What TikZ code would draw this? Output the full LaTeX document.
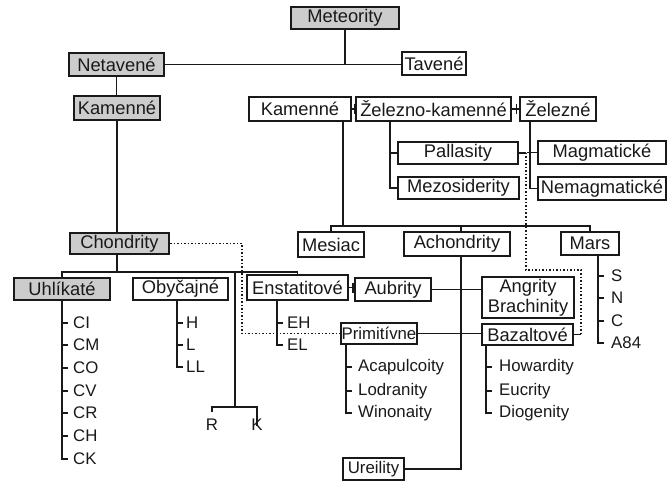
\documentclass[tikz,border=0pt]{standalone}
\usepackage{fontspec}
\setmainfont{Liberation Sans}
\definecolor{boxgray}{RGB}{204,204,204}
\definecolor{ink}{RGB}{25,25,25}
\newcommand\bigf{\fontsize{18.3}{20}\selectfont}
\newcommand\smallf{\fontsize{16.8}{18}\selectfont}
\begin{document}
\begin{tikzpicture}[x=1pt,y=-1pt,
  bx/.style={draw=ink,fill=white,line width=2pt,inner sep=0pt,font=\bigf,text=ink,align=center},
  gbx/.style={bx,fill=boxgray},
  sbx/.style={bx,font=\smallf},
  lbl/.style={anchor=west,inner xsep=5pt,inner ysep=0pt,font=\smallf,text=ink},
  lblc/.style={inner sep=0pt,font=\smallf,text=ink},
  ln/.style={draw=ink,line width=1.4pt},
  dot/.style={draw=ink,line width=1.4pt,dash pattern=on 1.5pt off 2pt}]
\useasboundingbox (0,0) rectangle (669,481);
% boxes
\node[gbx,minimum width=108pt,minimum height=22pt] (met) at (345,18) {Meteority};
\node[gbx,minimum width=95pt,minimum height=23pt] (net) at (116.5,64.5) {Netavené};
\node[bx,minimum width=64pt,minimum height=23pt] (tav) at (434,63.5) {Tavené};
\node[gbx,minimum width=86pt,minimum height=24pt] (kam1) at (117,108) {Kamenné};
\node[bx,minimum width=102pt,minimum height=24pt] (kam2) at (300,109) {Kamenné};
\node[bx,minimum width=155pt,minimum height=24pt] (zk) at (433.5,109) {Železno-kamenné};
\node[bx,minimum width=76pt,minimum height=24pt] (zel) at (558,109) {Železné};
\node[bx,minimum width=120pt,minimum height=22pt] (pal) at (458,153) {Pallasity};
\node[bx,minimum width=121pt,minimum height=22pt] (mez) at (458.5,188) {Mezosiderity};
\node[bx,minimum width=128pt,minimum height=23pt] (mag) at (602,152.5) {Magmatické};
\node[bx,minimum width=128pt,minimum height=23pt] (nem) at (602,188.5) {Nemagmatické};
\node[gbx,minimum width=99pt,minimum height=21pt] (cho) at (119.5,243.5) {Chondrity};
\node[bx,minimum width=66pt,minimum height=25pt] (mes) at (331,244.5) {Mesiac};
\node[bx,minimum width=106pt,minimum height=24pt] (ach) at (457,244) {Achondrity};
\node[bx,minimum width=58pt,minimum height=23pt] (mars) at (590,243.5) {Mars};
\node[gbx,minimum width=96pt,minimum height=22pt] (uhl) at (62,289) {Uhlíkaté};
\node[bx,minimum width=95pt,minimum height=22pt] (oby) at (180.5,289) {Obyčajné};
\node[bx,minimum width=101pt,minimum height=25pt] (ens) at (297.5,287.5) {Enstatitové};
\node[bx,minimum width=76pt,minimum height=23pt] (aub) at (393,289.5) {Aubrity};
\node[bx,minimum width=92pt,minimum height=41pt] (ang) at (528,297.5) {Angrity\\Brachinity};
\node[sbx,minimum width=76pt,minimum height=21pt] (pri) at (379,333.5) {Primitívne};
\node[bx,minimum width=91pt,minimum height=21pt] (baz) at (527.5,334.5) {Bazaltové};
\node[sbx,minimum width=61pt,minimum height=22pt] (ure) at (373.5,469) {Ureility};
% labels
\node[lbl] (ci) at (68,323) {CI};
\node[lbl] (cm) at (68,345) {CM};
\node[lbl] (co) at (68,368) {CO};
\node[lbl] (cv) at (68,391) {CV};
\node[lbl] (cr) at (68,413) {CR};
\node[lbl] (ch) at (68,436) {CH};
\node[lbl] (ck) at (68,459) {CK};
\node[lbl,inner xsep=3pt] (h) at (183,323) {H};
\node[lbl,inner xsep=3pt] (l) at (183,345) {L};
\node[lbl,inner xsep=3pt] (ll) at (183,367) {LL};
\node[lbl,inner xsep=4pt] (eh) at (283,323) {EH};
\node[lbl,inner xsep=4pt] (el) at (283,345) {EL};
\node[lbl,inner xsep=6pt] (aca) at (352,367) {Acapulcoity};
\node[lbl,inner xsep=6pt] (lod) at (352,391) {Lodranity};
\node[lbl,inner xsep=6pt] (win) at (352,413) {Winonaity};
\node[lbl,inner xsep=7pt] (how) at (492,367) {Howardity};
\node[lbl,inner xsep=7pt] (euc) at (492,391) {Eucrity};
\node[lbl,inner xsep=7pt] (dio) at (492,413) {Diogenity};
\node[lbl,inner xsep=7pt] (ms) at (604,276) {S};
\node[lbl,inner xsep=7pt] (mn) at (604,298) {N};
\node[lbl,inner xsep=7pt] (mc) at (604,321) {C};
\node[lbl,inner xsep=7pt] (ma) at (604,343) {A84};
\node[lblc] (r) at (212,425) {R};
\node[lblc] (k) at (257,425) {K};
\coordinate (barA) at (0,226);
\coordinate (barB) at (0,272);
\coordinate (rk) at (235,407);
% connectors
\draw[ln] (met.south) -- (met.south |- net.east);
\draw[ln] (net.east) -- (net.east -| tav.west);
\draw[ln] (net.south) -- (net.south |- kam1.north);
\draw[ln] (kam1.south) -- (kam1.south |- cho.north);
\draw[ln] (kam2.east) -- (kam2.east -| zk.west);
\draw[ln] ([xshift=2.5]kam2.east) ++(0,-5) -- ++(0,10);
\draw[ln] (zk.east) -- (zk.east -| zel.west);
\draw[ln] ([xshift=4.5]zk.east) ++(0,-5) -- ++(0,10);
\draw[ln] ([xshift=-9]kam2.south east) -- ++(0,105);
\draw[ln] (mes.north) |- (mars.north |- barA) -- (mars.north);
\draw[ln] ([xshift=4]ach.north) -- ++(0,-6);
\draw[ln] ([xshift=35]zk.south west) |- (mez.west);
\draw[ln] (pal.west) -- ++(-7,0);
\draw[ln] ([xshift=11]zel.south west) |- (nem.west);
\draw[ln] (mag.west) -- ++(-10,0);
\draw[ln] (pal.east) -- ++(7,0) coordinate (pd);
\draw[dot] (pd) -- ++(0,117) -| ([xshift=7]baz.east);
\draw[ln] (baz.east) -- ++(7,0);
\draw[dot] (cho.east) -| ([xshift=-98]pri.west) -- (pri.west);
\draw[ln] (kam1.south |- cho.south) -- (kam1.south |- barB);
\draw[ln] (uhl.north) |- (ens.north |- barB) -- (ens.north);
\draw[ln] (rk |- barB) -- (rk);
\draw[ln] (r.north) ++(0,-7) |- (rk) -| ([yshift=-7]k.north);
\draw[ln] ([xshift=4]ach.south) |- (ure.east);
\draw[ln] (ens.east) -- (ens.east -| aub.west);
\draw[ln] ([xshift=4]ens.east) ++(0,-5) -- ++(0,10);
\draw[ln] (aub.east) -- (aub.east -| ang.west);
\draw[ln] (pri.east) -- (pri.east -| baz.west);
% lists
\draw[ln] ([xshift=49]uhl.south west) |- (ck.west);
\foreach \n in {ci,cm,co,cv,cr,ch} \draw[ln] (\n.west) -- ++(-5,0);
\draw[ln] ([xshift=45]oby.south west) |- (ll.west);
\foreach \n in {h,l} \draw[ln] (\n.west) -- ++(-5,0);
\draw[ln] ([xshift=31]ens.south west) |- (el.west);
\draw[ln] (eh.west) -- ++(-5,0);
\draw[ln] ([xshift=6]pri.south west) |- (win.west);
\foreach \n in {aca,lod} \draw[ln] (\n.west) -- ++(-5,0);
\draw[ln] ([xshift=5]baz.south west) |- (dio.west);
\foreach \n in {how,euc} \draw[ln] (\n.west) -- ++(-5,0);
\draw[ln] ([xshift=38]mars.south west) |- (ma.west);
\foreach \n in {ms,mn,mc} \draw[ln] (\n.west) -- ++(-5,0);
\end{tikzpicture}
\end{document}
